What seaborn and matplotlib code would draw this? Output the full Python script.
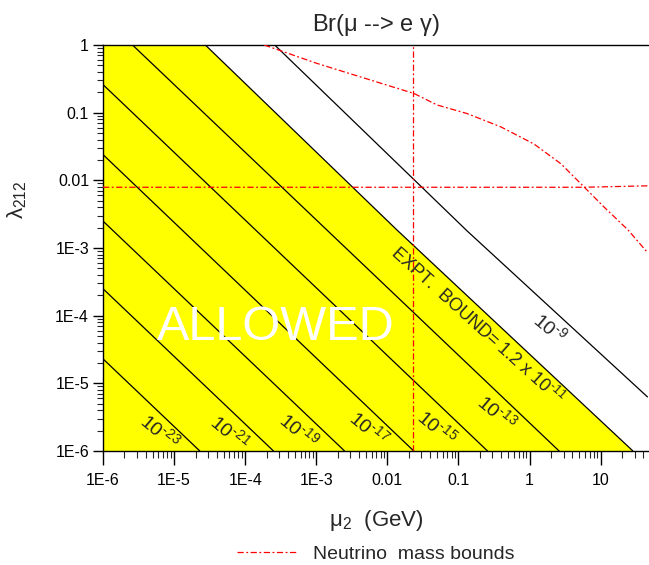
import numpy as np
import pandas as pd
import matplotlib
matplotlib.use("Agg")
import matplotlib.pyplot as plt
from matplotlib.lines import Line2D
from matplotlib.ticker import FixedLocator, FixedFormatter, LogLocator, NullFormatter
import seaborn as sns

# ---------------- data ----------------
# contour lines of Br(mu -> e gamma): (mu2 [GeV], lambda_212) points
c23_mu = [1e-6, 2.3e-5];   c23_lam = [2.3e-5, 1e-6]
c21_mu = [1e-6, 2.5e-4];   c21_lam = [2.5e-4, 1e-6]
c19_mu = [1e-6, 2.5e-3];   c19_lam = [2.5e-3, 1e-6]
c17_mu = [1e-6, 2.35e-2];  c17_lam = [2.4e-2, 1e-6]
c15_mu = [1e-6, 0.256];    c15_lam = [0.26, 1e-6]
c13_mu = [2.6e-6, 2.6];    c13_lam = [1.0, 1e-6]
expt_mu = [2.75e-5, 1.36e-2, 28.4]; expt_lam = [1.0, 1.85e-3, 1e-6]
c9_mu = [2.6e-4, 0.132, 45.5];      c9_lam = [1.0, 1.79e-3, 6.3e-6]

# neutrino mass bounds (red dash-dot)
nu_h_mu = [1e-6, 5.8, 47.8];   nu_h_lam = [0.0079, 0.0079, 0.0083]
nu_v_mu = [0.0231, 0.0231];    nu_v_lam = [1e-6, 1.0]
nu_c_mu = [1.85e-4, 1.02e-3, 7.1e-3, 0.0237, 0.0499, 0.132, 0.396, 1.15,
           2.77, 5.82, 11.1, 24.2, 44.8]
nu_c_lam = [1.0, 0.535, 0.284, 0.192, 0.130, 0.097, 0.0615, 0.0345,
            0.0175, 0.0080, 0.00405, 0.00185, 0.000875]

x_ticks = [1e-6, 1e-5, 1e-4, 1e-3, 1e-2, 1e-1, 1, 10]
x_ticklabels = ["1E-6", "1E-5", "1E-4", "1E-3", "0.01", "0.1", "1", "10"]
y_ticks = [1e-6, 1e-5, 1e-4, 1e-3, 1e-2, 1e-1, 1]
y_ticklabels = ["1E-6", "1E-5", "1E-4", "1E-3", "0.01", "0.1", "1"]

contour_labels = ["10$^{\\text{-}23}$", "10$^{\\text{-}21}$", "10$^{\\text{-}19}$",
                  "10$^{\\text{-}17}$", "10$^{\\text{-}15}$", "10$^{\\text{-}13}$",
                  "10$^{\\text{-}9}$"]
label_mu = [6.3e-6, 6.1e-5, 5.6e-4, 5.5e-3, 4.9e-2, 0.35, 1.94]
label_lam = [1.95e-6, 1.9e-6, 2.05e-6, 2.15e-6, 2.25e-6, 3.7e-6, 6.6e-5]

# ---------------- figure ----------------
sns.set_theme(style="ticks")
plt.rcParams["font.family"] = ["Liberation Sans", "DejaVu Sans"]
plt.rcParams["mathtext.fontset"] = "custom"
plt.rcParams["mathtext.rm"] = "Liberation Sans"
plt.rcParams["mathtext.it"] = "Liberation Sans"
plt.rcParams["mathtext.default"] = "regular"

fig = plt.figure(figsize=(6.49, 5.65), dpi=100)
ax = fig.add_axes([103 / 649, 1 - 451 / 565, (649 - 103) / 649, (451 - 45) / 565])
ax.set_xscale("log")
ax.set_yscale("log")
ax.set_xlim(1e-6, 47.8)
ax.set_ylim(1e-6, 1)

# allowed (yellow) region below the experimental bound
fill_mu = [1e-6] + expt_mu
fill_top = [1.0] + expt_lam
ax.fill_between(fill_mu, 1e-6, fill_top, color="#FFFF00", lw=0, zorder=1)

rows = []
for name, mus, lams in [("c23", c23_mu, c23_lam), ("c21", c21_mu, c21_lam),
                        ("c19", c19_mu, c19_lam), ("c17", c17_mu, c17_lam),
                        ("c15", c15_mu, c15_lam), ("c13", c13_mu, c13_lam),
                        ("expt", expt_mu, expt_lam), ("c9", c9_mu, c9_lam)]:
    for i, (m, l) in enumerate(zip(mus, lams)):
        rows.append({"line": name, "order": i, "mu": m, "lam": l})
df_c = pd.DataFrame(rows)
sns.lineplot(data=df_c, x="mu", y="lam", units="line", estimator=None,
             sort=False, color="black", lw=0.9, ax=ax, zorder=3, legend=False)

nrows = []
for name, mus, lams in [("h", nu_h_mu, nu_h_lam), ("v", nu_v_mu, nu_v_lam),
                        ("c", nu_c_mu, nu_c_lam)]:
    for i, (m, l) in enumerate(zip(mus, lams)):
        nrows.append({"line": name, "order": i, "mu": m, "lam": l})
df_n = pd.DataFrame(nrows)
dashdot = (0, (5, 2, 1.5, 2))
sns.lineplot(data=df_n, x="mu", y="lam", units="line", estimator=None,
             sort=False, color="red", lw=0.9, ax=ax, zorder=4, legend=False)
for l in ax.get_lines()[-3:]:
    l.set_linestyle(dashdot)

# contour labels
for txt, m, l in zip(contour_labels, label_mu, label_lam):
    ax.text(m, l, txt, fontsize=14, rotation=-40, ha="center", va="center",
            zorder=5, rotation_mode="anchor")

ax.text(0.185, 7.2e-5, "EXPT.  BOUND= 1.2 x 10$^{\\text{-}11}$", fontsize=13,
        rotation=-42, ha="center", va="center", rotation_mode="anchor", zorder=5)
ax.text(2.7e-4, 6.6e-5, "ALLOWED", fontsize=35, color="white",
        ha="center", va="center", zorder=5)

# axes cosmetics
ax.spines["right"].set_visible(False)
for s in ["left", "bottom", "top"]:
    ax.spines[s].set_linewidth(1.0)
    ax.spines[s].set_color("black")
ax.xaxis.set_major_locator(FixedLocator(x_ticks))
ax.xaxis.set_major_formatter(FixedFormatter(x_ticklabels))
ax.yaxis.set_major_locator(FixedLocator(y_ticks))
ax.yaxis.set_major_formatter(FixedFormatter(y_ticklabels))
ax.xaxis.set_minor_locator(LogLocator(base=10, subs=np.arange(2, 10), numticks=20))
ax.yaxis.set_minor_locator(LogLocator(base=10, subs=np.arange(2, 10), numticks=20))
ax.xaxis.set_minor_formatter(NullFormatter())
ax.yaxis.set_minor_formatter(NullFormatter())
ax.tick_params(axis="x", which="major", direction="out", length=10, width=1,
               labelsize=11.5, pad=6, top=False, colors="black")
ax.tick_params(axis="x", which="minor", direction="out", length=5, width=0.8,
               top=False)
ax.tick_params(axis="y", which="major", direction="out", length=7, width=1,
               labelsize=11.5, pad=3, right=False, colors="black")
ax.tick_params(axis="y", which="minor", direction="out", length=4.5, width=0.8,
               right=False)

ax.set_xlabel("$\\mu_2$  (GeV)", fontsize=16)
ax.xaxis.set_label_coords(0.5, -0.14)
ax.set_ylabel("$\\lambda_{212}$", fontsize=16)
ax.yaxis.set_label_coords(-0.135, 0.62)
ax.set_title("Br($\\mu$ --> e $\\gamma$)", fontsize=17, pad=10)

handle = Line2D([0], [0], color="red", lw=0.9, linestyle=dashdot)
fig.legend([handle], ["Neutrino  mass bounds"], loc="center",
           bbox_to_anchor=(0.579, 0.02), frameon=False, fontsize=14,
           handlelength=3.1, handletextpad=0.8)

fig.savefig("out.png", dpi=100, facecolor="white")
